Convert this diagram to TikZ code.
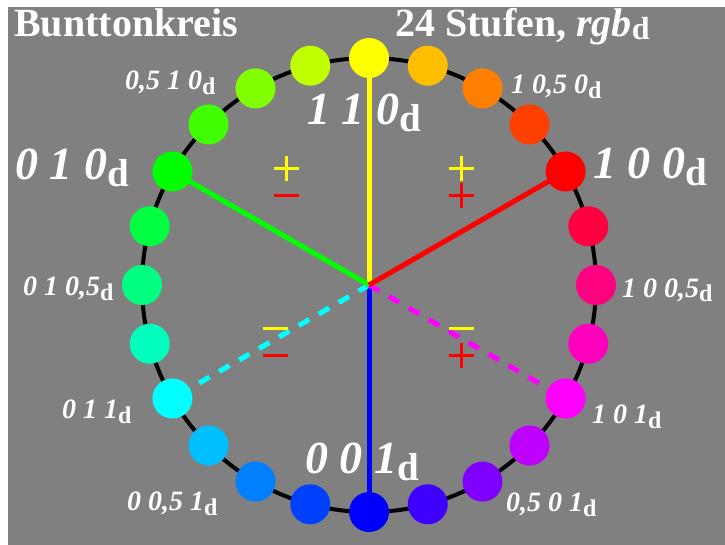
\documentclass[tikz,border=0pt]{standalone}
\usepackage{fontspec}
\setmainfont{Liberation Serif}
\definecolor{bggray}{HTML}{808080}
\definecolor{cY}{rgb}{1,1,0}
\definecolor{cR}{rgb}{1,0,0}
\definecolor{cG}{rgb}{0,1,0}
\definecolor{cB}{rgb}{0,0,1}
\definecolor{cC}{rgb}{0,1,1}
\definecolor{cM}{rgb}{1,0,1}
% big and small triple labels with an upright subscript d
\newcommand\triplebig[1]{{\fontsize{46}{46}\selectfont\bfseries\itshape #1\raisebox{-7pt}{\fontsize{39}{39}\selectfont\upshape d}}}
\newcommand\triplesmall[1]{{\fontsize{28}{28}\selectfont\bfseries\itshape #1\raisebox{-5pt}{\fontsize{24}{24}\selectfont\upshape d}}}
\begin{document}
\begin{tikzpicture}[x=1pt,y=-1pt,
  dot/.style={circle,inner sep=0pt,minimum size=40pt},
  lbl/.style={anchor=base west,inner sep=0pt,text=white},
  spoke/.style={line width=5pt},
  sign/.style={line width=3pt}]
\useasboundingbox (0,0) rectangle (725,545);
\fill[white] (0,0) rectangle (725,545);
\fill[bggray] (8,7) rectangle (725,545);
\coordinate (ctr) at (369,285);

% titles
\node[lbl] (title) at (14,37) {\fontsize{40}{40}\selectfont\bfseries Bunttonkreis};
\node[lbl] (steps) at (395,37) {\fontsize{40}{40}\selectfont\bfseries 24 Stufen, \textit{rgb}\raisebox{-3pt}{\fontsize{32}{32}\selectfont d}};

% colour labels
\node[lbl] (l110) at (307,125) {\triplebig{1 1 0}};
\node[lbl] (l010) at (15,180) {\triplebig{0 1 0}};
\node[lbl] (l100) at (593,179) {\triplebig{1 0 0}};
\node[lbl] (l001) at (305,473) {\triplebig{0 0 1}};
\node[lbl] (l0510) at (125,90) {\triplesmall{0,5 1 0}};
\node[lbl] (l1050) at (511,94) {\triplesmall{1 0,5 0}};
\node[lbl] (l10005) at (622,297) {\triplesmall{1 0 0,5}};
\node[lbl] (l01005) at (23,295) {\triplesmall{0 1 0,5}};
\node[lbl] (l011) at (62,418) {\triplesmall{0 1 1}};
\node[lbl] (l00051) at (127,510) {\triplesmall{0 0,5 1}};
\node[lbl] (l101) at (592,423) {\triplesmall{1 0 1}};
\node[lbl] (l0501) at (506,511) {\triplesmall{0,5 0 1}};

% hue circle
\draw[line width=4pt,black] (ctr) circle[radius=227];
\foreach \k in {0,...,23}{
  \coordinate (p\k) at ({369+227*sin(15*\k)},{285-227*cos(15*\k)});
}

% spokes from the centre
\draw[spoke,cB] (ctr) -- (p12);
\draw[spoke,cC,dash pattern=on 12pt off 11pt] (ctr) -- (p16);
\draw[spoke,cM,dash pattern=on 12pt off 11pt] (ctr) -- (p8);
\draw[spoke,cY] (ctr) -- (p0);
\draw[spoke,cG] (ctr) -- (p20);
\draw[spoke,cR] (ctr) -- (p4);

% dots in 24 hue steps
\foreach \k/\r/\g/\b in {0/1/1/0,1/1/.75/0,2/1/.5/0,3/1/.25/0,4/1/0/0,5/1/0/.25,
  6/1/0/.5,7/1/0/.75,8/1/0/1,9/.75/0/1,10/.5/0/1,11/.25/0/1,12/0/0/1,13/0/.25/1,
  14/0/.5/1,15/0/.75/1,16/0/1/1,17/0/1/.75,18/0/1/.5,19/0/1/.25,20/0/1/0,
  21/.25/1/0,22/.5/1/0,23/.75/1/0}{
  \definecolor{hue}{rgb}{\r,\g,\b}
  \node[dot,fill=hue] (d\k) at (p\k) {};
}

% sign marks
\draw[sign,cY] (274,169) -- (299,169) (286.5,156.5) -- (286.5,181.5);
\draw[sign,cR] (274,196) -- (299,196);
\draw[sign,cY] (448.5,169) -- (473.5,169) (461,156.5) -- (461,181.5);
\draw[sign,cR] (448.5,196) -- (473.5,196) (461,183.5) -- (461,208.5);
\draw[sign,cY] (262.5,328) -- (287.5,328);
\draw[sign,cR] (262.5,355) -- (287.5,355);
\draw[sign,cY] (448.5,328) -- (473.5,328);
\draw[sign,cR] (448.5,355) -- (473.5,355) (461,342.5) -- (461,367.5);
\end{tikzpicture}
\end{document}
